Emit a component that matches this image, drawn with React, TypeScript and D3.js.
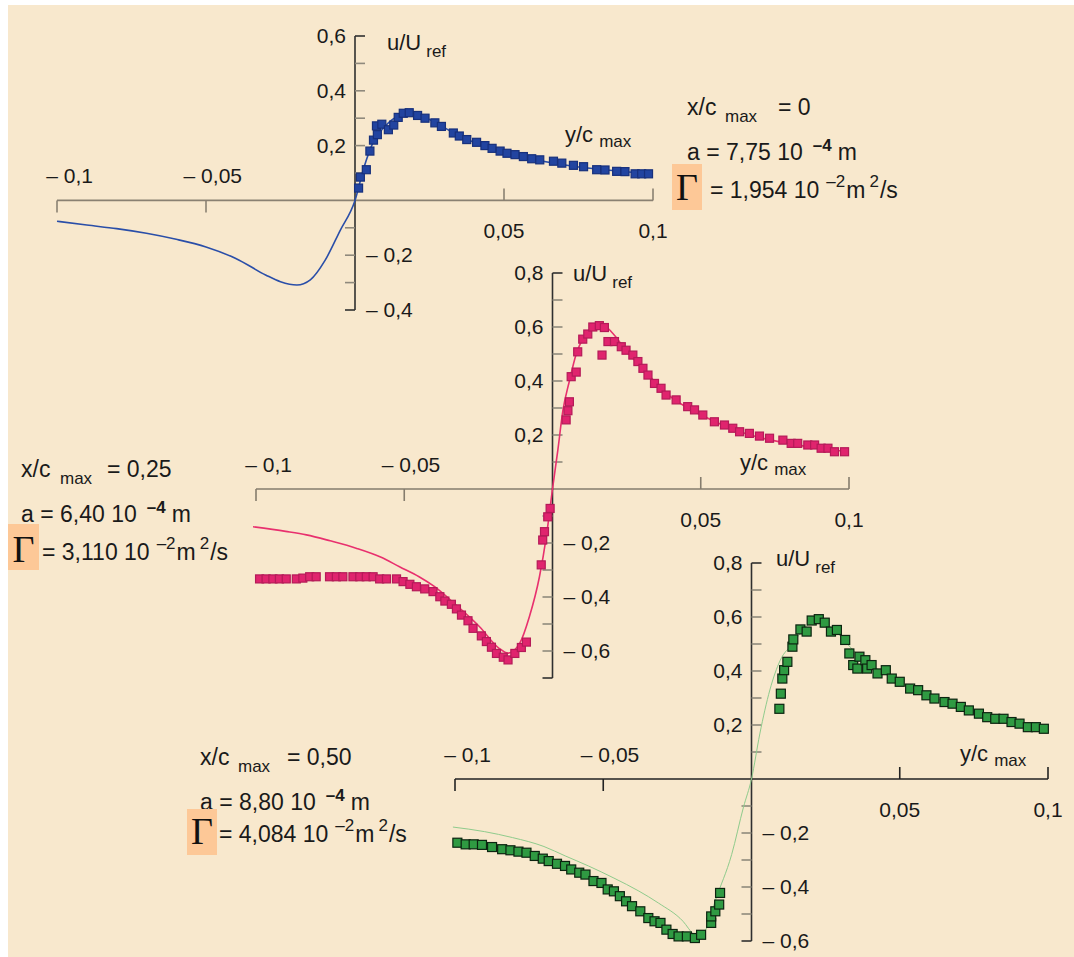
import React from 'react';
import * as d3 from 'd3';

type Pt = [number, number];

// ---------- shared axis values ----------
const xTickValues = [-0.1, -0.05, 0.05, 0.1];

// ---------- panel 1 : x/c_max = 0 (blue) ----------
const p1YTicks = [-0.4, -0.3, -0.2, -0.1, 0.1, 0.2, 0.3, 0.4, 0.5, 0.6];
const p1YLabels = [-0.4, -0.2, 0.2, 0.4, 0.6];
const p1Curve: Pt[] = [
  [-0.1, -0.076], [-0.09, -0.09], [-0.08, -0.103], [-0.07, -0.12], [-0.06, -0.142],
  [-0.05, -0.17], [-0.04, -0.212], [-0.03, -0.272], [-0.025, -0.297], [-0.0195, -0.309],
  [-0.015, -0.29], [-0.01, -0.218], [-0.005, -0.11], [0, 0], [0.003, 0.12],
  [0.006, 0.21], [0.01, 0.27], [0.015, 0.31], [0.019, 0.318], [0.025, 0.295],
  [0.035, 0.235], [0.05, 0.175], [0.07, 0.13], [0.1, 0.097],
];
const p1Points: Pt[] = [
  [0.0012, 0.045], [0.0018, 0.085], [0.0038, 0.112], [0.005, 0.18], [0.0062, 0.22],
  [0.0075, 0.24], [0.0072, 0.272], [0.009, 0.278], [0.0112, 0.258], [0.013, 0.275],
  [0.0145, 0.303], [0.0162, 0.318], [0.0182, 0.32], [0.021, 0.31], [0.0235, 0.3],
  [0.0268, 0.283], [0.029, 0.27], [0.033, 0.246], [0.035, 0.235], [0.0375, 0.222],
  [0.0408, 0.212], [0.0436, 0.2], [0.046, 0.19], [0.0487, 0.18], [0.051, 0.172],
  [0.0537, 0.167], [0.0565, 0.16], [0.0593, 0.152], [0.062, 0.148], [0.0666, 0.143],
  [0.0694, 0.136], [0.0733, 0.128], [0.0767, 0.123], [0.0811, 0.112], [0.0839, 0.111],
  [0.0878, 0.106], [0.0906, 0.105], [0.094, 0.097], [0.0962, 0.097], [0.0985, 0.097],
];

// ---------- panel 2 : x/c_max = 0.25 (pink) ----------
const p2YTicks = [-0.7, -0.6, -0.5, -0.4, -0.3, -0.2, -0.1, 0.1, 0.2, 0.3, 0.4, 0.5, 0.6, 0.7, 0.8];
const p2YLabels = [-0.6, -0.4, -0.2, 0.2, 0.4, 0.6, 0.8];
const p2Curve: Pt[] = [
  [-0.101, -0.14], [-0.09, -0.157], [-0.083, -0.17], [-0.075, -0.192], [-0.066, -0.22],
  [-0.058, -0.252], [-0.0516, -0.288], [-0.045, -0.325], [-0.04, -0.36], [-0.0325, -0.43],
  [-0.0246, -0.51], [-0.018, -0.59], [-0.015, -0.608], [-0.011, -0.57], [-0.0078, -0.473],
  [-0.0044, -0.325], [-0.0021, -0.177], [0, 0], [0.0018, 0.144], [0.0035, 0.29],
  [0.0057, 0.4], [0.008, 0.5], [0.0102, 0.556], [0.0136, 0.6], [0.0165, 0.61],
  [0.0203, 0.577], [0.025, 0.51], [0.03, 0.45], [0.04, 0.34], [0.05, 0.275],
  [0.06, 0.225], [0.07, 0.19], [0.08, 0.168], [0.09, 0.15], [0.1, 0.138],
];
const p2Points: Pt[] = [
  [-0.0988, -0.333], [-0.0966, -0.333], [-0.0943, -0.333], [-0.0921, -0.333], [-0.0898, -0.333],
  [-0.0864, -0.333], [-0.0842, -0.33], [-0.0819, -0.325], [-0.0797, -0.325], [-0.0752, -0.325],
  [-0.0729, -0.325], [-0.0707, -0.325], [-0.0673, -0.325], [-0.065, -0.325], [-0.0628, -0.325],
  [-0.0605, -0.325], [-0.0583, -0.333], [-0.056, -0.333], [-0.0526, -0.333], [-0.0504, -0.343],
  [-0.0481, -0.353], [-0.0459, -0.362], [-0.0431, -0.37], [-0.0403, -0.38], [-0.038, -0.399],
  [-0.0363, -0.415], [-0.0341, -0.427], [-0.0324, -0.444], [-0.0307, -0.467], [-0.0285, -0.488],
  [-0.0268, -0.516], [-0.024, -0.544], [-0.0223, -0.565], [-0.0206, -0.586], [-0.0189, -0.609],
  [-0.0166, -0.623], [-0.015, -0.633], [-0.0127, -0.609], [-0.0105, -0.587], [-0.0088, -0.567],
  [-0.0038, -0.281], [-0.0033, -0.189], [-0.0027, -0.158], [-0.0016, -0.103], [-0.0008, -0.072],
  [0.0046, 0.256], [0.0052, 0.29], [0.0057, 0.323], [0.0063, 0.416], [0.008, 0.433],
  [0.0085, 0.508], [0.0102, 0.555], [0.0119, 0.574], [0.0136, 0.6], [0.0158, 0.605],
  [0.0175, 0.598], [0.0167, 0.496], [0.0187, 0.546], [0.0209, 0.546], [0.0232, 0.527],
  [0.0248, 0.514], [0.0271, 0.496], [0.0288, 0.472], [0.0305, 0.447], [0.0322, 0.422],
  [0.0344, 0.391], [0.0366, 0.373], [0.0383, 0.348], [0.0417, 0.33], [0.0456, 0.305],
  [0.0479, 0.293], [0.0507, 0.274], [0.0546, 0.249], [0.058, 0.237], [0.0608, 0.225],
  [0.0631, 0.212], [0.0664, 0.206], [0.0698, 0.196], [0.0732, 0.188], [0.0777, 0.181],
  [0.0805, 0.169], [0.0827, 0.169], [0.0861, 0.163], [0.0884, 0.163], [0.0906, 0.151],
  [0.0929, 0.151], [0.0951, 0.138], [0.0985, 0.138],
];

// ---------- panel 3 : x/c_max = 0.50 (green) ----------
const p3YTicks = [-0.6, -0.5, -0.4, -0.3, -0.2, -0.1, 0.1, 0.2, 0.3, 0.4, 0.5, 0.6, 0.7, 0.8];
const p3YLabels = [-0.6, -0.4, -0.2, 0.2, 0.4, 0.6, 0.8];
const p3Curve: Pt[] = [
  [-0.1007, -0.178], [-0.09, -0.195], [-0.0806, -0.217], [-0.07, -0.25], [-0.0628, -0.285],
  [-0.055, -0.322], [-0.0464, -0.367], [-0.038, -0.415], [-0.0313, -0.46], [-0.0231, -0.527],
  [-0.0195, -0.575], [-0.0175, -0.585], [-0.0155, -0.56], [-0.0122, -0.45], [-0.0067, -0.28],
  [-0.0027, -0.104], [0, 0], [0.0028, 0.167], [0.0062, 0.33], [0.0097, 0.44],
  [0.0138, 0.5], [0.018, 0.56], [0.022, 0.59], [0.027, 0.56], [0.035, 0.47],
  [0.045, 0.39], [0.055, 0.33], [0.07, 0.27], [0.085, 0.22], [0.1, 0.185],
];
const p3Points: Pt[] = [
  [-0.0992, -0.236], [-0.0964, -0.242], [-0.0937, -0.242], [-0.0909, -0.244], [-0.0875, -0.252],
  [-0.0841, -0.26], [-0.0813, -0.264], [-0.0786, -0.269], [-0.0759, -0.273], [-0.0731, -0.285],
  [-0.0704, -0.295], [-0.0684, -0.304], [-0.0656, -0.314], [-0.0629, -0.322], [-0.0608, -0.335],
  [-0.0581, -0.347], [-0.056, -0.354], [-0.0533, -0.378], [-0.0506, -0.385], [-0.0485, -0.409],
  [-0.0464, -0.416], [-0.0444, -0.434], [-0.0423, -0.453], [-0.0403, -0.471], [-0.0375, -0.49],
  [-0.0348, -0.515], [-0.0327, -0.527], [-0.0307, -0.533], [-0.0287, -0.558], [-0.0266, -0.574],
  [-0.0246, -0.583], [-0.0218, -0.583], [-0.0191, -0.589], [-0.017, -0.577], [-0.0136, -0.533],
  [-0.0136, -0.509], [-0.0122, -0.49], [-0.0109, -0.465], [-0.0106, -0.422],
  [0.0094, 0.26], [0.0099, 0.316], [0.0104, 0.372], [0.011, 0.403], [0.0121, 0.434],
  [0.0138, 0.49], [0.0141, 0.517], [0.0165, 0.554], [0.0186, 0.546], [0.0203, 0.587],
  [0.0227, 0.592], [0.0247, 0.579], [0.0268, 0.546], [0.0288, 0.552], [0.0316, 0.515],
  [0.033, 0.465], [0.0343, 0.422], [0.0357, 0.409], [0.0364, 0.453], [0.0384, 0.44],
  [0.039, 0.409], [0.0405, 0.422], [0.0425, 0.391], [0.0453, 0.403], [0.0473, 0.372],
  [0.05, 0.36], [0.0535, 0.335], [0.0562, 0.329], [0.059, 0.31], [0.0617, 0.298],
  [0.0651, 0.285], [0.0678, 0.279], [0.0706, 0.267], [0.0733, 0.254], [0.0767, 0.242],
  [0.0795, 0.229], [0.0822, 0.223], [0.085, 0.223], [0.0877, 0.211], [0.0904, 0.205],
  [0.0932, 0.192], [0.0959, 0.192], [0.0986, 0.186],
];

const FONT = 'Liberation Sans, Arial, Helvetica, sans-serif';
const SERIF = 'Liberation Serif, Times New Roman, serif';

const fmt = (v: number) => (v < 0 ? '\u2013 ' : '') + String(Math.abs(v)).replace('.', ',');

type PanelCfg = {
  xRange: [number, number];
  yDomain: [number, number];
  yRange: [number, number];
  yTicks: number[];
  yLabels: number[];
  curve: Pt[];
  points: Pt[];
  lineColor: string;
  lineWidth: number;
  fill: string;
  stroke: string;
  ms: number;
  xAxisColor: string;
  uLabel: [number, number];
  yLabel: [number, number];
};

function Panel({ c }: { c: PanelCfg }) {
  const x = d3.scaleLinear().domain([-0.1, 0.1]).range(c.xRange);
  const y = d3.scaleLinear().domain(c.yDomain).range(c.yRange);
  const x0 = x(0);
  const y0 = y(0);
  const line = d3
    .line<Pt>()
    .x((d) => x(d[0]))
    .y((d) => y(d[1]))
    .curve(d3.curveMonotoneX);
  const tickGrey = '#8f897c';
  const axisDark = '#2f2f2f';
  const ms = c.ms;
  const fs = 21;
  return (
    <g fontFamily={FONT} fill="#1a1a1a">
      {/* x axis */}
      <line x1={c.xRange[0]} x2={c.xRange[1]} y1={y0} y2={y0} stroke={c.xAxisColor} strokeWidth={1.6} />
      {xTickValues.map((v) => (
        <line key={'xt' + v} x1={x(v)} x2={x(v)} y1={y0} y2={v < 0 ? y0 + 12 : y0 - 12} stroke={c.xAxisColor} strokeWidth={1.6} />
      ))}
      {xTickValues.map((v) =>
        v < 0 ? (
          <text key={'xl' + v} x={x(v) + 36} y={y0 - 17} fontSize={fs} textAnchor="end">{fmt(v)}</text>
        ) : (
          <text key={'xl' + v} x={x(v)} y={y0 + 38} fontSize={fs} textAnchor="middle">{fmt(v)}</text>
        )
      )}
      {/* y axis */}
      <line x1={x0} x2={x0} y1={y(c.yDomain[0])} y2={y(c.yDomain[1])} stroke={axisDark} strokeWidth={1.6} />
      {c.yTicks.map((v) => {
        const end = v === c.yDomain[0] || v === c.yDomain[1];
        return (
          <line key={'yt' + v} x1={x0} x2={v < 0 ? x0 - 10 : x0 + 10} y1={y(v)} y2={y(v)} stroke={end ? axisDark : tickGrey} strokeWidth={1.6} />
        );
      })}
      {c.yLabels.map((v) => (
        <text key={'yl' + v} x={v < 0 ? x0 + 11 : x0 - 9} y={y(v) + 7} fontSize={fs} textAnchor={v < 0 ? 'start' : 'end'}>
          {fmt(v)}
        </text>
      ))}
      <text x={c.uLabel[0]} y={c.uLabel[1]} fontSize={22}>
        u/U<tspan fontSize={17} dx={5} dy={7}>ref</tspan>
      </text>
      <text x={c.yLabel[0]} y={c.yLabel[1]} fontSize={22}>
        y/c<tspan fontSize={17} dx={6} dy={5}>max</tspan>
      </text>
      {/* model curve */}
      <path d={line(c.curve) || ''} fill="none" stroke={c.lineColor} strokeWidth={c.lineWidth} />
      {/* measured points */}
      {c.points.map((p, i) => (
        <rect key={'p' + i} x={x(p[0]) - ms / 2} y={y(p[1]) - ms / 2} width={ms} height={ms} fill={c.fill} stroke={c.stroke} strokeWidth={1.2} />
      ))}
    </g>
  );
}

function Info({ x, y1, y2, box, xc, aVal, gVal, maxX, eqX, geqX, gy }: {
  x: number; y1: number; y2: number; box: [number, number, number, number];
  xc: string; aVal: string; gVal: string; maxX: number; eqX: number; geqX: number; gy: number;
}) {
  const [bx, by, bw, bh] = box;
  const fs = 23;
  return (
    <g fontFamily={FONT} fill="#1a1a1a">
      <text x={x} y={y1} fontSize={fs}>x/c</text>
      <text x={maxX} y={y1 + 7} fontSize={17}>max</text>
      <text x={eqX} y={y1} fontSize={fs}>{'= ' + xc}</text>
      <text x={x} y={y2} fontSize={fs}>
        {'a = ' + aVal + ' 10'}
        <tspan dx={10} dy={-9} fontSize={17} fontWeight="bold">{'\u2013' + '4'}</tspan>
        <tspan dx={6} dy={9} fontSize={fs}>m</tspan>
      </text>
      <rect x={bx} y={by} width={bw} height={bh} fill="#FDC897" />
      <text x={bx + bw / 2} y={gy} fontSize={38} fontFamily={SERIF} textAnchor="middle" fill="#111">Γ</text>
      <text x={geqX} y={gy - 2} fontSize={fs}>
        {'= ' + gVal + ' 10'}
        <tspan dx={7} dy={-11} fontSize={17}>{'\u2013' + '2'}</tspan>
        <tspan dx={1} dy={11} fontSize={fs}>m</tspan>
        <tspan dx={4} dy={-11} fontSize={17}>2</tspan>
        <tspan dx={1} dy={11} fontSize={fs}>/s</tspan>
      </text>
    </g>
  );
}

export default function App() {
  const panels: PanelCfg[] = [
    {
      xRange: [57, 653], yDomain: [-0.4, 0.6], yRange: [310, 36],
      yTicks: p1YTicks, yLabels: p1YLabels, curve: p1Curve, points: p1Points,
      lineColor: '#2a4ea8', lineWidth: 1.6, fill: '#2244a0', stroke: '#17307c', ms: 8,
      xAxisColor: '#8a8172', uLabel: [387, 50], yLabel: [565, 142],
    },
    {
      xRange: [256, 849], yDomain: [-0.7, 0.8], yRange: [678, 273],
      yTicks: p2YTicks, yLabels: p2YLabels, curve: p2Curve, points: p2Points,
      lineColor: '#e8306e', lineWidth: 1.6, fill: '#e0246e', stroke: '#b51a58', ms: 8,
      xAxisColor: '#857c6d', uLabel: [573, 281], yLabel: [740, 470],
    },
    {
      xRange: [455, 1048], yDomain: [-0.6, 0.8], yRange: [941, 563],
      yTicks: p3YTicks, yLabels: p3YLabels, curve: p3Curve, points: p3Points,
      lineColor: '#8fcb8c', lineWidth: 1, fill: '#2f9a42', stroke: '#0c2410', ms: 9,
      xAxisColor: '#222222', uLabel: [776, 566], yLabel: [960, 761],
    },
  ];
  return (
    <svg width={1074} height={957} style={{ position: 'absolute', left: 0, top: 0, display: 'block' }}>
      <rect x={0} y={0} width={1074} height={957} fill="#ffffff" />
      <rect x={8} y={5} width={1066} height={952} fill="#f8e8cd" />
      {panels.map((c, i) => (
        <Panel key={i} c={c} />
      ))}
      <Info x={687} y1={115} y2={160} box={[672, 164, 30, 46]} xc="0" aVal="7,75" gVal="1,954"
        maxX={725} eqX={778} geqX={710} gy={200} />
      <Info x={21} y1={477} y2={522} box={[8, 524, 31, 46]} xc="0,25" aVal="6,40" gVal="3,110"
        maxX={60} eqX={107} geqX={42} gy={562} />
      <Info x={200} y1={765} y2={810} box={[187, 809, 30, 46]} xc="0,50" aVal="8,80" gVal="4,084"
        maxX={238} eqX={287} geqX={219} gy={844} />
    </svg>
  );
}
